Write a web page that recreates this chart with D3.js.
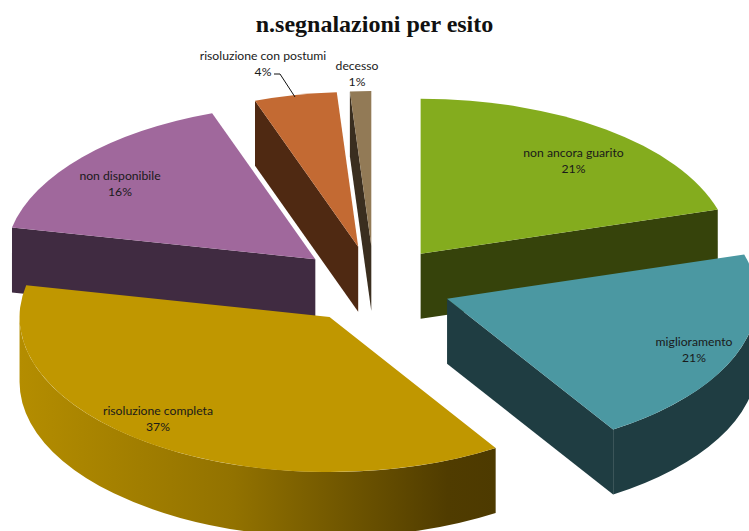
<!DOCTYPE html>
<html>

<head>
    <title>n.segnalazioni per esito</title>
    <script src="https://d3js.org/d3.v7.min.js" charset="utf-8"></script>
    <style>
        html, body {
            margin: 0;
            padding: 0;
            background: #fff;
        }

        svg {
            display: block;
        }

        .title {
            font-family: "Liberation Serif", serif;
            font-weight: bold;
            font-size: 24px;
            fill: #111;
        }

        .label {
            font-family: Lato, "Noto Sans", sans-serif;
            font-size: 12.2px;
            fill: #1a1a1a;
        }
    </style>
</head>

<body>
    <script>
        // slices run clockwise from 12 o'clock, as in the original
        const categories = ["non ancora guarito", "miglioramento", "risoluzione completa", "non disponibile", "risoluzione con postumi", "decesso"];
        const shares = [20.4, 20.6, 37.3, 16.3, 4.3, 1.1];
        const shareLabels = ["21%", "21%", "37%", "16%", "4%", "1%"];

        const topColors = ["#84ac1e", "#4b98a2", "#c09700", "#a0689c", "#c36a33", "#927a56"];
        const wallColors = ["#36430b", "#1f3d42", "url(#goldWall)", "#402b41", "#4f2912", "#3a2e1f"];
        const labelAnchors = [[573.5, 157], [694, 346], [158, 415], [120, 180], [263, 60], [357, 70]];
        // painted back to front
        const drawOrder = [5, 4, 3, 0, 1, 2];

        const width = 749;
        const height = 531;
        const cx = 374;
        const cy = 285;
        const radius = 310;
        const tilt = 0.5;
        const depth = 65;
        const explode = 78;

        const svg = d3.select('body')
            .append('svg')
            .attr('width', width)
            .attr('height', height)

        // gradient runs in the slice's own coordinates, so from the left edge to its front corner
        const grad = svg.append('defs').append('linearGradient')
            .attr('id', 'goldWall')
            .attr('gradientUnits', 'userSpaceOnUse')
            .attr('x1', -radius)
            .attr('x2', 166)
            .attr('y1', 0)
            .attr('y2', 0)
        grad.append('stop').attr('offset', '0%').attr('stop-color', '#b48d00')
        grad.append('stop').attr('offset', '45%').attr('stop-color', '#927200')
        grad.append('stop').attr('offset', '90%').attr('stop-color', '#503c00')
        grad.append('stop').attr('offset', '100%').attr('stop-color', '#4d3a00')

        const slices = d3.pie().sort(null).value(d => d)(shares)
        const arc = d3.arc().innerRadius(0).outerRadius(radius)
        const lift = depth / tilt

        // everything below is drawn in the flat circle's space and squashed by the group transform
        function radial(theta) {
            const p = d3.path()
            const x = radius * Math.sin(theta)
            const y = -radius * Math.cos(theta)
            p.moveTo(0, 0)
            p.lineTo(x, y)
            p.lineTo(x, y + lift)
            p.lineTo(0, lift)
            p.closePath()
            return p.toString()
        }

        function outerWall(a0, a1) {
            // only the part between 3 and 9 o'clock faces the viewer
            const from = Math.max(a0, Math.PI / 2)
            const to = Math.min(a1, 3 * Math.PI / 2)
            if (to <= from) return null
            const p = d3.path()
            p.arc(0, 0, radius, from - Math.PI / 2, to - Math.PI / 2)
            p.arc(0, lift, radius, to - Math.PI / 2, from - Math.PI / 2, true)
            p.closePath()
            return p.toString()
        }

        const pie = svg.append('g')

        drawOrder.forEach(i => {
            const s = slices[i]
            const mid = (s.startAngle + s.endAngle) / 2
            const g = pie.append('g')
                .attr('transform', `translate(${cx + explode * Math.sin(mid)},${cy - explode * tilt * Math.cos(mid)}) scale(1,${tilt})`)

            const walls = []
            if (Math.sin(s.startAngle) < 0) walls.push(radial(s.startAngle))
            if (Math.sin(s.endAngle) > 0) walls.push(radial(s.endAngle))
            const outer = outerWall(s.startAngle, s.endAngle)
            if (outer) walls.push(outer)

            g.selectAll('path.wall')
                .data(walls)
                .enter()
                .append('path')
                .attr('class', 'wall')
                .attr('d', d => d)
                .attr('fill', wallColors[i])

            g.append('path')
                .attr('d', arc(s))
                .attr('fill', topColors[i])
        })

        svg.append('polyline')
            .attr('points', '274,74 280,74 295,97')
            .attr('fill', 'none')
            .attr('stroke', '#111')
            .attr('stroke-width', 1)

        const labels = svg.selectAll('text.label')
            .data(categories)
            .enter()
            .append('text')
            .attr('class', 'label')
            .attr('text-anchor', 'middle')
            .attr('transform', (d, i) => `translate(${labelAnchors[i][0]},${labelAnchors[i][1]})`)
        labels.append('tspan')
            .attr('x', 0)
            .text(d => d)
        labels.append('tspan')
            .attr('x', 0)
            .attr('dy', 16)
            .text((d, i) => shareLabels[i])

        svg.append('text')
            .attr('class', 'title')
            .attr('x', 374.5)
            .attr('y', 32)
            .attr('text-anchor', 'middle')
            .text('n.segnalazioni per esito')
    </script>
</body>

</html>
